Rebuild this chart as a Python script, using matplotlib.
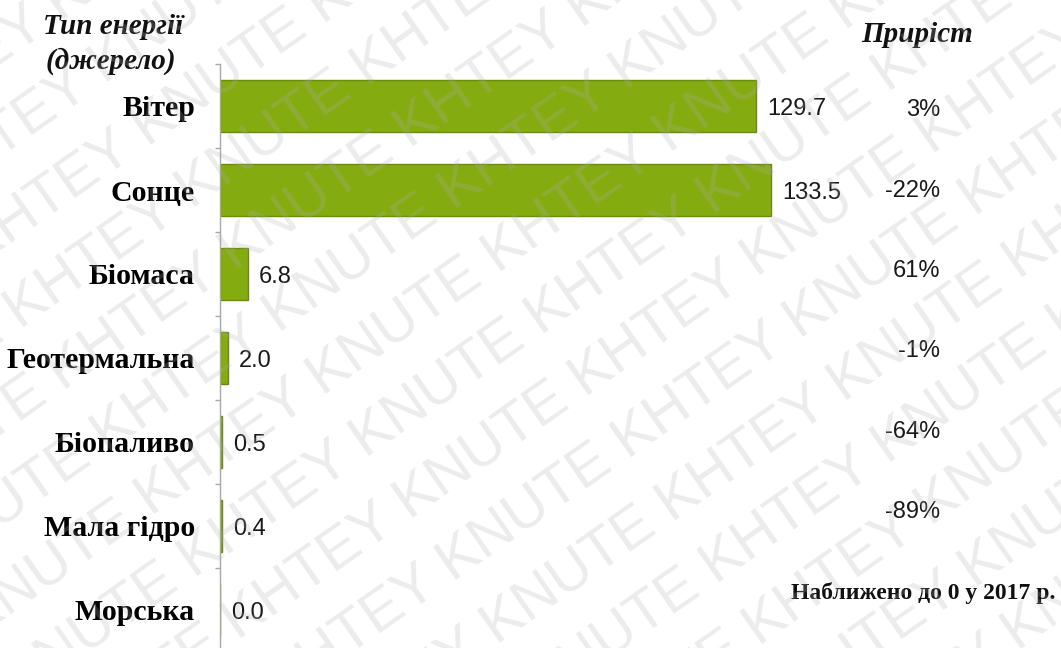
import numpy as np
import matplotlib.pyplot as plt
import matplotlib.transforms as mtransforms

# Installed capacity added by energy source and growth vs. previous year
sources = ['Вітер', 'Сонце', 'Біомаса', 'Геотермальна', 'Біопаливо', 'Мала гідро', 'Морська']
values = [129.7, 133.5, 6.8, 2.0, 0.5, 0.4, 0.0]
growth = ['3%', '-22%', '61%', '-1%', '-64%', '-89%']
note = 'Наближено до 0 у 2017 р.'

W, H = 1061, 648
fig = plt.figure(figsize=(W / 100, H / 100), dpi=100)
fig.patch.set_facecolor('white')

# axes placed in pixel terms: spine at x=220, category pitch ~84 px
ax = fig.add_axes([220 / W, (H - 652) / H, 826 / W, 588 / H])

y = np.arange(len(sources))
ax.barh(y, values, height=0.62, color='#84ab10', edgecolor='#6a8c0a', linewidth=1.0, zorder=2)

ax.set_xlim(0, 200)
ax.set_ylim(len(sources) - 0.5, -0.5)

for s in ['top', 'right', 'bottom']:
    ax.spines[s].set_visible(False)
ax.spines['left'].set_color('#a8a8a8')
ax.spines['left'].set_linewidth(1.0)
ax.set_xticks([])

ax.set_yticks(y)
ax.set_yticklabels(sources, fontfamily='Liberation Serif', fontweight='bold', fontsize=21.5)
ax.tick_params(axis='y', which='major', length=0, pad=18)
ax.set_yticks(np.arange(-0.5, len(sources), 1), minor=True)
ax.tick_params(axis='y', which='minor', length=3.5, width=1.0, color='#a8a8a8', direction='out')

# value labels next to the bars
for yi, v in zip(y, values):
    ax.annotate(f'{v:.1f}', xy=(v, yi), xytext=(8, -2), textcoords='offset points',
                ha='left', va='center', fontfamily='Liberation Sans', fontsize=17,
                color='#1a1a1a')

# growth column on the right (its rows are a little tighter than the bars)
trans = mtransforms.blended_transform_factory(fig.transFigure, ax.transData)
gx = 940 / W
for i, g in enumerate(growth):
    ax.text(gx, 0.05 + 0.957 * i, g, transform=trans, ha='right', va='center',
            fontfamily='Liberation Sans', fontsize=17, color='#1a1a1a')
ax.text(923 / W, 0.05 + 0.957 * len(growth), note, transform=trans, ha='center', va='center',
        fontfamily='Liberation Serif', fontweight='bold', fontsize=17, color='#111111')

# headers
hdr = dict(fontfamily='Liberation Serif', fontweight='bold', fontstyle='italic',
           fontsize=21, color='#111111', ha='center', va='center')
fig.text(113 / W, 1 - 27 / H, 'Тип енергії', **hdr)
fig.text(111 / W, 1 - 61 / H, '(джерело)', **hdr)
fig.text(917 / W, 1 - 35 / H, 'Приріст', **hdr)

# diagonal watermark over the whole figure
theta = np.deg2rad(35)
nvec = np.array([-np.sin(theta), np.cos(theta)])
centre = np.array([W / 2, H / 2])
line = 'KNUTE KHTEY ' * 7
for k in range(-10, 11):
    px, py = centre + k * 76 * nvec
    fig.text(px / W, py / H, line, rotation=35, rotation_mode='anchor',
             ha='center', va='center', fontfamily='Liberation Sans', fontsize=42,
             color='#b0b0b0', alpha=0.24, zorder=10)

fig.savefig('out.png', dpi=100)
